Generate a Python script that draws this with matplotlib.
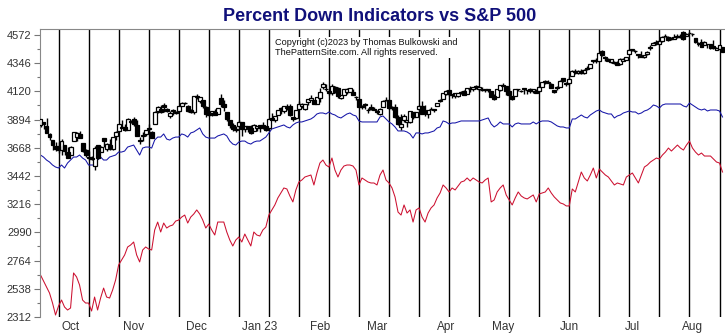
import numpy as np
import matplotlib
matplotlib.use("Agg")
import matplotlib.pyplot as plt

plt.rcParams['font.family'] = ['Liberation Sans', 'DejaVu Sans']

# S&P 500 daily bars, 19 Sep 2022 .. 15 Aug 2023 (one entry per trading day)
sp_open = [3849, 3875, 3845, 3782, 3727, 3682, 3686, 3651, 3687, 3633,
           3610, 3726, 3753, 3777, 3706, 3647, 3595, 3590, 3520, 3690,
           3638, 3746, 3661, 3689, 3657, 3764, 3799, 3825, 3834, 3808,
           3881, 3901, 3853, 3733, 3766, 3780, 3817, 3798, 3859, 3963,
           3978, 4007, 3976, 3919, 3966, 3956, 3965, 4001, 4024, 4005,
           3969, 3957, 4087, 4041, 4053, 3996, 3937, 3947, 3954, 3940,
           4069, 4016, 3958, 3890, 3854, 3810, 3839, 3878, 3815, 3844,
           3829, 3805, 3829, 3853, 3840, 3840, 3823, 3910, 3888, 3932,
           3977, 3960, 3987, 4002, 3911, 3909, 3979, 4001, 3982, 4037,
           4053, 4050, 4021, 4070, 4159, 4137, 4120, 4105, 4153, 4145,
           4068, 4092, 4117, 4119, 4115, 4073, 4057, 4001, 4018, 3973,
           3992, 3977, 3963, 3938, 3998, 4055, 4048, 3987, 3998, 3912,
           3835, 3894, 3876, 3878, 3958, 3917, 3975, 4002, 3959, 3939,
           3982, 3974, 3999, 4046, 4057, 4102, 4128, 4098, 4081, 4085,
           4111, 4122, 4101, 4140, 4137, 4164, 4140, 4131, 4132, 4134,
           4123, 4087, 4075, 4129, 4166, 4164, 4122, 4082, 4084, 4136,
           4124, 4144, 4132, 4139, 4127, 4127, 4122, 4157, 4204, 4191,
           4177, 4132, 4155, 4157, 4227, 4188, 4184, 4242, 4282, 4271,
           4285, 4268, 4304, 4308, 4360, 4366, 4366, 4440, 4397, 4380,
           4355, 4354, 4344, 4337, 4367, 4374, 4422, 4450, 4443, 4422,
           4404, 4394, 4416, 4467, 4492, 4515, 4502, 4521, 4563, 4554,
           4550, 4543, 4556, 4558, 4598, 4565, 4584, 4579, 4550, 4501,
           4514, 4492, 4499, 4501, 4487, 4451, 4459, 4478]
sp_high = [3900, 3876, 3907, 3790, 3727, 3715, 3717, 3736, 3687, 3672,
           3679, 3791, 3797, 3799, 3706, 3662, 3645, 3604, 3685, 3690,
           3683, 3750, 3709, 3738, 3757, 3803, 3862, 3887, 3859, 3905,
           3893, 3911, 3894, 3751, 3796, 3813, 3859, 3800, 3959, 4001,
           4009, 4028, 3984, 3962, 3980, 3962, 4005, 4034, 4035, 4013,
           3979, 4080, 4101, 4077, 4053, 4002, 3951, 3966, 3977, 3990,
           4101, 4053, 3958, 3890, 3864, 3839, 3889, 3878, 3846, 3846,
           3848, 3858, 3840, 3853, 3874, 3840, 3906, 3950, 3920, 3970,
           3993, 4003, 4016, 4015, 3911, 3973, 4039, 4028, 4020, 4060,
           4095, 4050, 4077, 4148, 4195, 4182, 4124, 4176, 4160, 4156,
           4094, 4139, 4148, 4148, 4136, 4084, 4050, 4009, 4029, 3990,
           4018, 3997, 3973, 3990, 4048, 4078, 4050, 4000, 4017, 3934,
           3937, 3937, 3894, 3965, 3958, 3956, 4009, 4039, 4007, 3972,
           3997, 3979, 4030, 4059, 4110, 4128, 4133, 4103, 4108, 4110,
           4125, 4135, 4151, 4163, 4154, 4169, 4157, 4158, 4139, 4142,
           4123, 4103, 4138, 4170, 4184, 4164, 4148, 4084, 4139, 4143,
           4130, 4150, 4133, 4144, 4141, 4136, 4164, 4198, 4213, 4209,
           4186, 4132, 4165, 4212, 4231, 4195, 4232, 4290, 4299, 4288,
           4299, 4298, 4322, 4340, 4375, 4391, 4429, 4448, 4400, 4387,
           4382, 4366, 4362, 4384, 4390, 4398, 4458, 4457, 4452, 4422,
           4440, 4412, 4443, 4488, 4517, 4528, 4532, 4562, 4578, 4564,
           4555, 4580, 4581, 4582, 4607, 4590, 4595, 4584, 4550, 4519,
           4540, 4520, 4503, 4502, 4528, 4477, 4490, 4479]
sp_low = [3838, 3818, 3789, 3727, 3647, 3644, 3623, 3610, 3610, 3585,
          3610, 3726, 3722, 3744, 3636, 3597, 3570, 3574, 3491, 3582,
          3638, 3675, 3640, 3653, 3647, 3733, 3799, 3825, 3804, 3808,
          3864, 3843, 3759, 3699, 3722, 3764, 3788, 3747, 3859, 3944,
          3947, 3953, 3956, 3906, 3930, 3940, 3957, 4000, 4020, 3956,
          3948, 3940, 4058, 4026, 3984, 3918, 3922, 3922, 3933, 3937,
          3994, 3966, 3879, 3828, 3800, 3796, 3827, 3765, 3798, 3796,
          3781, 3805, 3801, 3794, 3815, 3803, 3809, 3890, 3878, 3932,
          3937, 3947, 3969, 3926, 3885, 3901, 3972, 3990, 3974, 4013,
          4048, 4015, 4020, 4037, 4142, 4123, 4094, 4088, 4111, 4070,
          4060, 4091, 4103, 4113, 4088, 4048, 3995, 3981, 3978, 3944,
          3973, 3968, 3939, 3928, 3998, 4044, 3980, 3970, 3909, 3847,
          3808, 3874, 3838, 3864, 3901, 3917, 3971, 3936, 3920, 3909,
          3969, 3951, 3999, 4032, 4056, 4090, 4086, 4069, 4070, 4073,
          4102, 4088, 4099, 4114, 4124, 4140, 4127, 4123, 4114, 4118,
          4072, 4055, 4075, 4123, 4164, 4090, 4088, 4048, 4084, 4123,
          4116, 4098, 4098, 4110, 4110, 4110, 4114, 4153, 4180, 4186,
          4145, 4104, 4129, 4156, 4193, 4166, 4172, 4241, 4260, 4263,
          4263, 4261, 4292, 4304, 4349, 4350, 4362, 4407, 4367, 4360,
          4351, 4341, 4328, 4335, 4360, 4368, 4422, 4442, 4431, 4385,
          4397, 4386, 4415, 4448, 4491, 4493, 4504, 4519, 4557, 4527,
          4535, 4541, 4548, 4548, 4528, 4563, 4577, 4567, 4505, 4486,
          4474, 4491, 4464, 4462, 4458, 4451, 4453, 4433]
sp_close = [3899, 3855, 3790, 3758, 3693, 3655, 3647, 3720, 3640, 3586,
            3678, 3791, 3783, 3745, 3640, 3612, 3589, 3577, 3669, 3583,
            3677, 3720, 3695, 3666, 3752, 3797, 3859, 3831, 3807, 3901,
            3872, 3856, 3760, 3720, 3771, 3807, 3828, 3749, 3957, 3993,
            3957, 3991, 3959, 3947, 3965, 3950, 4003, 4027, 4026, 3964,
            3958, 4080, 4076, 4072, 3999, 3941, 3933, 3963, 3934, 3990,
            4019, 3996, 3895, 3852, 3818, 3821, 3878, 3822, 3845, 3829,
            3783, 3849, 3840, 3824, 3853, 3808, 3895, 3893, 3919, 3970,
            3983, 3999, 3991, 3929, 3899, 3973, 4020, 4017, 4016, 4060,
            4071, 4018, 4077, 4119, 4180, 4136, 4111, 4164, 4118, 4082,
            4090, 4137, 4136, 4148, 4090, 4079, 3997, 3991, 4012, 3970,
            3982, 3970, 3951, 3981, 4046, 4048, 3986, 3992, 3918, 3862,
            3855, 3920, 3892, 3960, 3917, 3952, 4003, 3937, 3949, 3971,
            3977, 3971, 4027, 4051, 4109, 4125, 4101, 4091, 4105, 4110,
            4109, 4092, 4146, 4138, 4152, 4155, 4155, 4130, 4134, 4137,
            4072, 4056, 4136, 4169, 4168, 4120, 4091, 4061, 4136, 4138,
            4120, 4138, 4131, 4124, 4136, 4110, 4158, 4198, 4192, 4193,
            4146, 4116, 4151, 4205, 4206, 4180, 4221, 4282, 4273, 4283,
            4268, 4294, 4299, 4338, 4369, 4373, 4426, 4410, 4389, 4366,
            4382, 4348, 4328, 4378, 4376, 4396, 4450, 4456, 4447, 4412,
            4399, 4410, 4439, 4473, 4510, 4505, 4522, 4555, 4565, 4535,
            4536, 4554, 4567, 4566, 4537, 4582, 4589, 4577, 4513, 4501,
            4478, 4518, 4499, 4468, 4468, 4464, 4490, 4437]

# indicator lines, in the same (scaled) units as the chart axis
blue_ind = [3610, 3594, 3570, 3554, 3530, 3514, 3506, 3530, 3506, 3546,
            3570, 3594, 3594, 3610, 3586, 3570, 3530, 3530, 3530, 3570,
            3594, 3570, 3570, 3594, 3602, 3610, 3634, 3634, 3642, 3674,
            3682, 3690, 3650, 3610, 3666, 3674, 3674, 3666, 3730, 3754,
            3754, 3779, 3738, 3730, 3746, 3754, 3754, 3779, 3771, 3754,
            3787, 3795, 3811, 3827, 3779, 3754, 3746, 3746, 3746, 3763,
            3771, 3779, 3763, 3722, 3698, 3690, 3714, 3722, 3722, 3706,
            3698, 3714, 3722, 3722, 3738, 3754, 3787, 3819, 3827, 3835,
            3843, 3851, 3835, 3827, 3851, 3867, 3875, 3875, 3883, 3891,
            3899, 3915, 3939, 3947, 3947, 3939, 3955, 3939, 3931, 3915,
            3907, 3923, 3939, 3947, 3931, 3923, 3883, 3875, 3875, 3875,
            3875, 3875, 3875, 3915, 3923, 3899, 3875, 3859, 3835, 3803,
            3803, 3803, 3795, 3779, 3746, 3787, 3787, 3779, 3787, 3787,
            3795, 3803, 3827, 3835, 3883, 3875, 3859, 3867, 3867, 3875,
            3883, 3883, 3883, 3883, 3883, 3883, 3883, 3891, 3899, 3907,
            3859, 3835, 3851, 3875, 3859, 3859, 3859, 3835, 3859, 3867,
            3859, 3859, 3859, 3859, 3875, 3859, 3875, 3883, 3883, 3883,
            3875, 3859, 3843, 3835, 3835, 3827, 3827, 3899, 3899, 3915,
            3931, 3915, 3907, 3931, 3947, 3963, 3971, 3955, 3947, 3939,
            3939, 3907, 3923, 3931, 3947, 3955, 3963, 3955, 3955, 3939,
            3947, 3963, 3971, 3987, 4011, 4003, 3987, 4011, 4019, 4019,
            4019, 4019, 4019, 4019, 4003, 3995, 4027, 4011, 3995, 3979,
            3971, 3979, 3963, 3971, 3971, 3971, 3963, 3915]
red_ind = [2649, 2600, 2552, 2504, 2424, 2328, 2400, 2448, 2392, 2368,
           2384, 2665, 2633, 2568, 2448, 2424, 2424, 2360, 2472, 2368,
           2464, 2544, 2472, 2464, 2528, 2609, 2729, 2769, 2809, 2873,
           2889, 2913, 2809, 2753, 2849, 2873, 2857, 2849, 3009, 3073,
           2993, 3065, 3025, 3041, 3049, 3081, 3089, 3113, 3129, 3065,
           3113, 3137, 3170, 3137, 3089, 3025, 3057, 3009, 2969, 3073,
           3073, 3073, 2993, 2929, 2881, 2929, 2953, 2913, 2977, 2929,
           2881, 2993, 2969, 2961, 3009, 3033, 3129, 3170, 3210, 3266,
           3306, 3346, 3338, 3282, 3234, 3330, 3394, 3410, 3434, 3442,
           3450, 3370, 3466, 3546, 3570, 3530, 3514, 3586, 3490, 3434,
           3490, 3522, 3530, 3530, 3522, 3490, 3370, 3426, 3410, 3394,
           3386, 3386, 3370, 3450, 3490, 3410, 3386, 3346, 3274, 3153,
           3129, 3210, 3145, 3170, 3073, 3170, 3186, 3113, 3073, 3145,
           3186, 3210, 3266, 3306, 3370, 3346, 3314, 3346, 3330, 3362,
           3394, 3402, 3426, 3402, 3426, 3410, 3394, 3386, 3410, 3426,
           3234, 3250, 3314, 3346, 3370, 3290, 3250, 3210, 3266, 3314,
           3282, 3266, 3258, 3274, 3290, 3234, 3298, 3306, 3314, 3346,
           3306, 3274, 3250, 3226, 3218, 3202, 3202, 3338, 3314, 3394,
           3474, 3426, 3402, 3450, 3506, 3426, 3498, 3474, 3450, 3434,
           3402, 3370, 3386, 3378, 3370, 3434, 3450, 3466, 3426, 3386,
           3450, 3514, 3530, 3554, 3570, 3586, 3578, 3610, 3634, 3666,
           3642, 3666, 3690, 3666, 3650, 3690, 3722, 3666, 3634, 3610,
           3626, 3602, 3602, 3602, 3578, 3554, 3546, 3474]

month_names = ['Oct', 'Nov', 'Dec', 'Jan 23', 'Feb', 'Mar', 'Apr', 'May', 'Jun', 'Jul', 'Aug']
month_first_bar = [10, 31, 52, 73, 93, 112, 135, 154, 176, 197, 217]
y_ticks = [2312, 2538, 2764, 2990, 3216, 3442, 3668, 3894, 4120, 4346, 4572]

o = np.array(sp_open)
h = np.array(sp_high)
l = np.array(sp_low)
c = np.array(sp_close)
x = np.arange(len(c))

fig = plt.figure(figsize=(7.25, 3.34), dpi=100)
ax = fig.add_axes([40 / 725, 17 / 334, 685 / 725, 288 / 334])

# vertical separators every 10 bars
for v in range(6, len(c), 10):
    ax.axvline(v, color='black', lw=1.0, zorder=1)

ax.plot(x, red_ind, color='#cc1030', lw=0.75, zorder=2)
ax.plot(x, blue_ind, color='#1515a8', lw=0.75, zorder=2)

# candles
ax.vlines(x, l, h, color='black', lw=1.0, zorder=3)
up = c >= o
bottoms = np.minimum(o, c)
heights = np.maximum(np.abs(c - o), 4)
ax.bar(x[up], heights[up], bottom=bottoms[up], width=1.3,
       color='white', edgecolor='black', lw=0.9, zorder=4)
ax.bar(x[~up], heights[~up], bottom=bottoms[~up], width=1.3,
       color='black', edgecolor='black', lw=0.9, zorder=4)

ax.set_xlim(-0.17, len(c) - 0.17)
ax.set_ylim(2312, 4620)

ax.set_yticks(y_ticks)
ax.set_yticklabels([str(t) for t in y_ticks])
ax.set_yticks([t + 113 for t in y_ticks[:-1]], minor=True)
ax.set_xticks(month_first_bar)
ax.set_xticklabels(month_names)
ax.tick_params(axis='x', length=0, pad=3, labelsize=8.5, labelcolor='#333333')
ax.tick_params(axis='y', which='major', length=4, width=0.8, color='#777777',
               labelsize=8, labelcolor='#333333', pad=2)
ax.tick_params(axis='y', which='minor', length=2.5, width=0.8, color='#777777')

for s in ['right', 'bottom']:
    ax.spines[s].set_visible(False)
ax.spines['left'].set_color('#888888')
ax.spines['top'].set_color('#888888')
ax.spines['left'].set_linewidth(0.8)
ax.spines['top'].set_linewidth(0.8)

fig.text(0.523, 0.952, 'Percent Down Indicators vs S&P 500', ha='center', va='center',
         fontsize=13, fontweight='bold', color='#10107a')
fig.text(275 / 725, 1 - 38 / 334,
         'Copyright (c)2023 by Thomas Bulkowski and\nThePatternSite.com. All rights reserved.',
         ha='left', va='top', fontsize=6.6, color='#111111', linespacing=1.15,
         bbox=dict(facecolor='white', edgecolor='none', pad=0.5), zorder=10)

fig.savefig('out.png', dpi=100)
